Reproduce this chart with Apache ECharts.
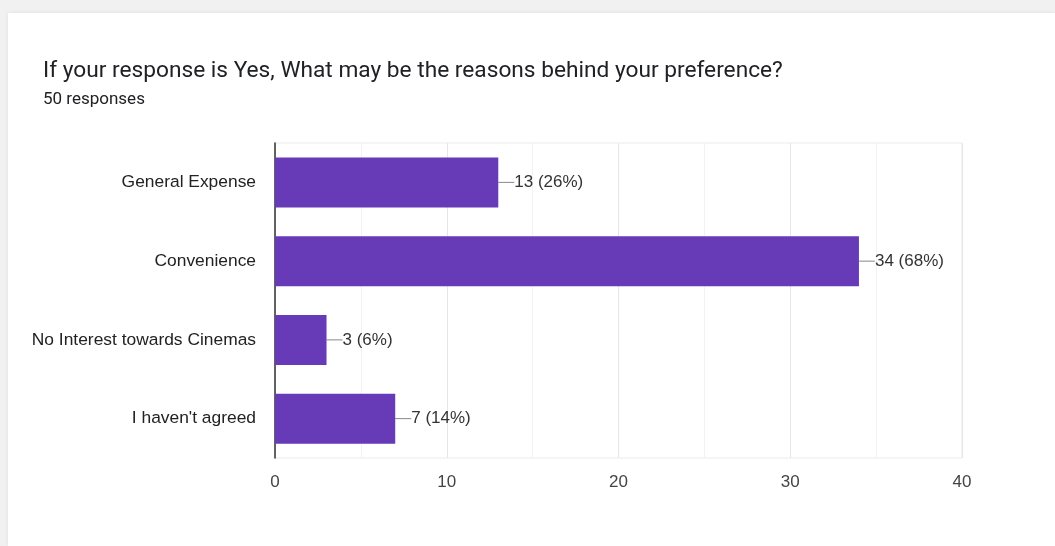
<!DOCTYPE html>
<html>
<head>
<meta charset="utf-8">
<script src="https://cdn.jsdelivr.net/npm/echarts@6/dist/echarts.min.js"></script>
<style>
  html, body { margin: 0; padding: 0; width: 1055px; height: 546px; background: #f1f1f1; overflow: hidden; }
  #card { position: absolute; left: 8px; top: 13px; width: 1047px; height: 533px; background: #fff;
          box-shadow: 0 0 4px rgba(0,0,0,0.08); }
  #chart { width: 100%; height: 100%; }
</style>
</head>
<body>
<div id="card"><div id="chart"></div></div>
<script>
const titleText = "If your response is Yes, What may be the reasons behind your preference?";
const subtitleText = "50 responses";
const categories = ["General Expense", "Convenience", "No Interest towards Cinemas", "I haven't agreed"];
const counts = [13, 34, 3, 7];
const totalResponses = 50;

const chartFont = '"Liberation Sans", Arial, sans-serif';

const chart = echarts.init(document.getElementById('chart'));
chart.setOption({
  animation: false,
  textStyle: { fontFamily: chartFont },
  title: {
    text: titleText,
    subtext: subtitleText,
    left: 30, top: 42,
    itemGap: 8,
    textStyle: { fontSize: 22.7, fontWeight: 'normal', color: '#202124', fontFamily: 'Roboto, Arial, sans-serif' },
    subtextStyle: { fontSize: 17, color: '#202124', fontFamily: 'Roboto, Arial, sans-serif' }
  },
  grid: { left: 267, right: 93, top: 130, bottom: 88, show: true, borderColor: '#ebebeb', borderWidth: 1 },
  xAxis: {
    type: 'value', min: 0, max: 40, interval: 5,
    axisLine: { show: false }, axisTick: { show: false },
    axisLabel: {
      color: '#444', fontSize: 17, margin: 16, fontFamily: chartFont,
      formatter: v => (v % 10 === 0 ? String(v) : '')
    },
    splitLine: { show: true, lineStyle: { color: ['#e6e6e6', '#f2f2f2'], width: 1 } }
  },
  yAxis: {
    type: 'category', inverse: true, data: categories,
    axisLine: { show: true, lineStyle: { color: '#333', width: 1.5 } },
    axisTick: { show: false },
    axisLabel: { color: '#222', fontSize: 17.4, margin: 19, fontFamily: chartFont }
  },
  series: [{
    type: 'bar',
    data: counts,
    barWidth: 50,
    itemStyle: { color: '#673ab7' },
    label: {
      show: true, position: 'right', distance: 0,
      color: '#333', fontSize: 17, fontFamily: chartFont,
      formatter: p => p.value + ' (' + Math.round(p.value / totalResponses * 100) + '%)'
    },
    labelLayout: { dx: 16 },
    labelLine: { show: true, lineStyle: { color: '#888', width: 1 } }
  }]
});
</script>
</body>
</html>
